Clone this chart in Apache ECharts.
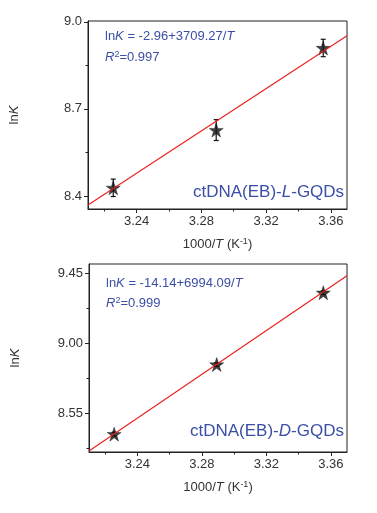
<!DOCTYPE html>
<html>
<head>
<meta charset="utf-8">
<script src="https://cdn.jsdelivr.net/npm/echarts@6/dist/echarts.min.js"></script>
<style>html,body{margin:0;padding:0;background:#fff}#c{width:377px;height:513px}</style>
</head>
<body>
<div id="c"></div>
<script>
const xTicks = [3.24, 3.28, 3.32, 3.36];
const xMinorTicks = [3.22, 3.26, 3.30, 3.34];
const pointsX = [3.2256, 3.2892, 3.3553];

const lTicks = [8.4, 8.7, 9.0];
const lMinorTicks = [8.55, 8.85];
const lY = [8.428, 8.627, 8.910];
const lErr = [0.030, 0.036, 0.030];
const lFitX = [3.21, 3.37];
const lFitY = [8.369, 8.952];

const dTicks = [8.55, 9.00, 9.45];
const dMinorTicks = [8.325, 8.775, 9.225];
const dY = [8.415, 8.863, 9.325];
const dErr = [0.012, 0.012, 0.012];
const dFitX = [3.21, 3.37];
const dFitY = [8.306, 9.435];

const FONT = 'Liberation Sans, Arial, sans-serif';
const BLUE = '#3b4fa6';
const STAR = 'path://M50,0 L61.8,35.5 L99,35.5 L69,57.5 L80.5,93 L50,71 L19.5,93 L31,57.5 L1,35.5 L38.2,35.5 Z';

const chart = echarts.init(document.getElementById('c'), null, {renderer: 'canvas'});

function xAxisPair(gi, minorOnly) {
  return {
    type: 'value', gridIndex: gi, min: 3.21, max: 3.37, position: 'bottom',
    name: minorOnly ? '' : '1000/{i|T} (K{sup|-1})',
    nameLocation: 'middle', nameGap: 28,
    nameTextStyle: {color: '#333', fontSize: 13, fontFamily: FONT,
      rich: {i: {fontStyle: 'italic', fontSize: 13, fontFamily: FONT, color: '#333'},
             sup: {fontSize: 9, fontFamily: FONT, color: '#333', padding: [0, 0, 6, 0]}}},
    axisLine: {show: !minorOnly, lineStyle: {color: '#222', width: 1}},
    axisTick: {show: true, inside: false, length: minorOnly ? 2.5 : 4,
      customValues: minorOnly ? xMinorTicks : xTicks, lineStyle: {color: '#222'}},
    axisLabel: {show: !minorOnly, customValues: xTicks, margin: 6, color: '#333', fontSize: 13, fontFamily: FONT,
      formatter: v => v.toFixed(2)},
    splitLine: {show: false}
  };
}
function yAxisPair(gi, min, max, ticks, minor, dec, minorOnly) {
  return {
    type: 'value', gridIndex: gi, min: min, max: max, position: 'left',
    name: minorOnly ? '' : 'ln{i|K}', nameLocation: 'middle', nameGap: 67, nameRotate: 90,
    nameTextStyle: {color: '#333', fontSize: 13, fontFamily: FONT,
      rich: {i: {fontStyle: 'italic', fontSize: 13, fontFamily: FONT, color: '#333'}}},
    axisLine: {show: !minorOnly, lineStyle: {color: '#222', width: 1}},
    axisTick: {show: true, inside: false, length: minorOnly ? 2.5 : 4,
      customValues: minorOnly ? minor : ticks, lineStyle: {color: '#222'}},
    axisLabel: {show: !minorOnly, customValues: ticks, margin: 6, color: '#333', fontSize: 13, fontFamily: FONT,
      formatter: v => v.toFixed(dec)},
    splitLine: {show: false}
  };
}
function errSeries(xi, yi, ys, errs) {
  return {
    type: 'custom', xAxisIndex: xi, yAxisIndex: yi, z: 3,
    data: pointsX.map((x, i) => [x, ys[i], errs[i]]),
    renderItem: function (params, api) {
      const x = api.value(0), y = api.value(1), e = api.value(2);
      const top = api.coord([x, y + e]);
      const bot = api.coord([x, y - e]);
      const style = {stroke: '#111', lineWidth: 1.2};
      return {type: 'group', children: [
        {type: 'line', shape: {x1: top[0], y1: top[1], x2: bot[0], y2: bot[1]}, style: style},
        {type: 'line', shape: {x1: top[0] - 2.5, y1: top[1], x2: top[0] + 2.5, y2: top[1]}, style: style},
        {type: 'line', shape: {x1: bot[0] - 2.5, y1: bot[1], x2: bot[0] + 2.5, y2: bot[1]}, style: style}
      ]};
    }
  };
}
function starSeries(xi, yi, ys) {
  return {type: 'scatter', xAxisIndex: xi, yAxisIndex: yi, z: 4, symbol: STAR, symbolSize: 14,
    itemStyle: {color: '#111', borderColor: '#111', borderWidth: 0.5},
    data: pointsX.map((x, i) => [x, ys[i]])};
}
function fitSeries(xi, yi, fx, fy) {
  return {type: 'line', xAxisIndex: xi, yAxisIndex: yi, z: 5, symbol: 'none', clip: true,
    lineStyle: {color: '#e8231f', width: 1.2}, data: fx.map((x, i) => [x, fy[i]])};
}
const eqRich = {
  n: {fontSize: 13, fontFamily: FONT, fill: BLUE},
  i: {fontSize: 13, fontFamily: FONT, fontStyle: 'italic', fill: BLUE},
  sup: {fontSize: 9, fontFamily: FONT, fill: BLUE, padding: [0, 0, 6, 0]}
};
const tagRich = {
  n: {fontSize: 17, fontFamily: FONT, fill: BLUE},
  i: {fontSize: 17, fontFamily: FONT, fontStyle: 'italic', fill: BLUE}
};
function txt(left, top, text, rich) {
  return {type: 'text', left: left, top: top, z: 10,
    style: {text: text, rich: rich, fill: BLUE}};
}

chart.setOption({
  animation: false,
  backgroundColor: '#fff',
  grid: [
    {left: 87, top: 21, width: 260, height: 188, show: true, borderColor: '#222', borderWidth: 1, containLabel: false},
    {left: 89, top: 264, width: 258, height: 188, show: true, borderColor: '#222', borderWidth: 1, containLabel: false}
  ],
  xAxis: [xAxisPair(0, false), xAxisPair(0, true), xAxisPair(1, false), xAxisPair(1, true)],
  yAxis: [
    yAxisPair(0, 8.355, 9.003, lTicks, lMinorTicks, 1, false),
    yAxisPair(0, 8.355, 9.003, lTicks, lMinorTicks, 1, true),
    yAxisPair(1, 8.30, 9.51, dTicks, dMinorTicks, 2, false),
    yAxisPair(1, 8.30, 9.51, dTicks, dMinorTicks, 2, true)
  ],
  series: [
    errSeries(0, 0, lY, lErr), starSeries(0, 0, lY), fitSeries(0, 0, lFitX, lFitY),
    errSeries(2, 2, dY, dErr), starSeries(2, 2, dY), fitSeries(2, 2, dFitX, dFitY)
  ],
  graphic: [
    txt(105, 30, '{n|ln}{i|K}{n| = -2.96+3709.27/}{i|T}', eqRich),
    txt(105, 50, '{i|R}{sup|2}{n|=0.997}', eqRich),
    txt(193, 184, '{n|ctDNA(EB)-}{i|L}{n|-GQDs}', tagRich),
    txt(106, 277, '{n|ln}{i|K}{n| = -14.14+6994.09/}{i|T}', eqRich),
    txt(106, 296, '{i|R}{sup|2}{n|=0.999}', eqRich),
    txt(190, 423, '{n|ctDNA(EB)-}{i|D}{n|-GQDs}', tagRich)
  ]
});
</script>
</body>
</html>
